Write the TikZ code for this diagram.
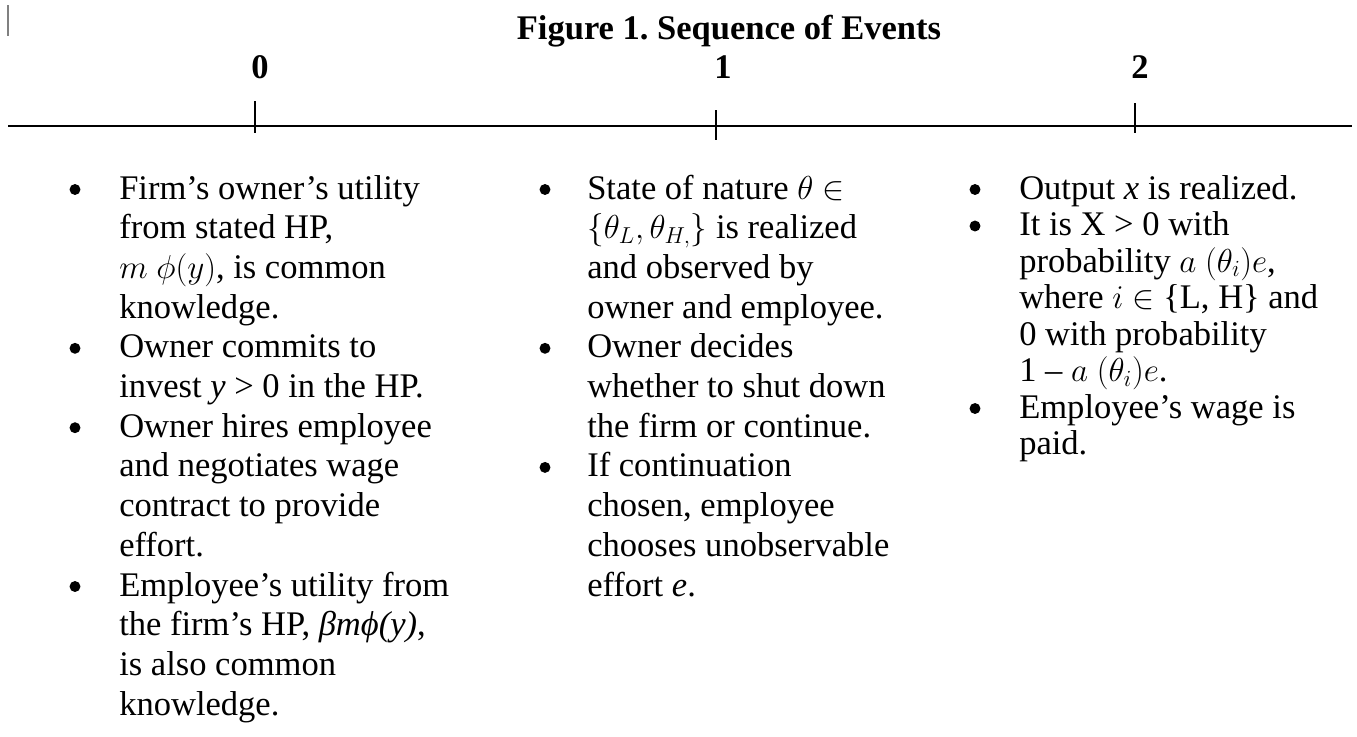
\documentclass[tikz,border=0pt]{standalone}
\usepackage{fontspec}
\setmainfont{Liberation Serif}
\frenchspacing
\newcommand\TL[4]{\node[txt] (#1) at (#2,#3) {#4};}
\newcommand\BL[3]{\node[dot] (#1) at (#2,#3-9.5) {};}
\begin{document}
\begin{tikzpicture}[x=0.75pt,y=-0.75pt,
  txt/.style={anchor=base west, inner sep=0pt, font=\fontsize{25.9}{31}\selectfont},
  dot/.style={circle, fill=black, inner sep=0pt, minimum size=8.2pt},
  hd/.style={anchor=base, inner sep=0pt, font=\fontsize{25.9}{31}\selectfont\bfseries},
  axisline/.style={line width=1.6pt},
  tickline/.style={line width=0.8pt}]
\useasboundingbox (0,0) rectangle (1357,736);
% small grey mark
\coordinate (ma) at (8,5); \coordinate (mb) at (8,36);
\draw[gray, line width=1.2pt] (ma) -- (mb);
% title and time labels
\node[hd] (title) at (729,39) {Figure 1. Sequence of Events};
\node[hd] (n0) at (260,78) {0};
\node[hd] (n1) at (723,78) {1};
\node[hd] (n2) at (1140,78) {2};
% axis
\coordinate (L) at (8,126); \coordinate (R) at (1352,126);
\draw[axisline] (L) -- (R);
\coordinate (t0a) at (255,101); \coordinate (t0b) at (255,133);
\coordinate (t1a) at (716,110); \coordinate (t1b) at (716,140);
\coordinate (t2a) at (1135,103); \coordinate (t2b) at (1135,133);
\draw[tickline] (t0a) -- (t0b);
\draw[tickline] (t1a) -- (t1b);
\draw[tickline] (t2a) -- (t2b);
% column 1 (line pitch 39.7)
\BL{a1}{75}{199}
\TL{a1l1}{119}{199}{Firm’s owner’s utility}
\TL{a1l2}{119}{238.7}{from stated HP,}
\TL{a1l3}{119}{278.4}{$m\ \phi(y)$, is common}
\TL{a1l4}{119}{318.1}{knowledge.}
\BL{a2}{75}{357.8}
\TL{a2l1}{119}{357.8}{Owner commits to}
\TL{a2l2}{119}{397.5}{invest \textit{y} > 0 in the HP.}
\BL{a3}{75}{437.2}
\TL{a3l1}{119}{437.2}{Owner hires employee}
\TL{a3l2}{119}{476.9}{and negotiates wage}
\TL{a3l3}{119}{516.6}{contract to provide}
\TL{a3l4}{119}{556.3}{effort.}
\BL{a4}{75}{596}
\TL{a4l1}{119}{596}{Employee’s utility from}
\TL{a4l2}{119}{635.7}{the firm’s HP, \textit{βmϕ(y)},}
\TL{a4l3}{119}{675.4}{is also common}
\TL{a4l4}{119}{715.1}{knowledge.}
% column 2
\BL{b1}{545}{199}
\TL{b1l1}{587}{199}{State of nature $\theta\in$}
\TL{b1l2}{587}{238.7}{$\bigl\{\theta_L,\theta_{H,}\bigr\}$ is realized}
\TL{b1l3}{587}{278.4}{and observed by}
\TL{b1l4}{587}{318.1}{owner and employee.}
\BL{b2}{545}{357.8}
\TL{b2l1}{587}{357.8}{Owner decides}
\TL{b2l2}{587}{397.5}{whether to shut down}
\TL{b2l3}{587}{437.2}{the firm or continue.}
\BL{b3}{545}{476.9}
\TL{b3l1}{587}{476.9}{If continuation}
\TL{b3l2}{587}{516.6}{chosen, employee}
\TL{b3l3}{587}{556.3}{chooses unobservable}
\TL{b3l4}{587}{596}{effort \textit{e}.}
% column 3 (line pitch 36.5)
\BL{c1}{975}{199}
\TL{c1l1}{1019}{199}{Output \textit{x} is realized.}
\BL{c2}{975}{235.5}
\TL{c2l1}{1019}{235.5}{It is X > 0 with}
\TL{c2l2}{1019}{272}{probability $a\ (\theta_i)e$,}
\TL{c2l3}{1019}{308.5}{where $i\in$ \{L, H\} and}
\TL{c2l4}{1019}{345}{0 with probability}
\TL{c2l5}{1019}{381.5}{1 – $a\ (\theta_i)e$.}
\BL{c3}{975}{418}
\TL{c3l1}{1019}{418}{Employee’s wage is}
\TL{c3l2}{1019}{454.5}{paid.}
\end{tikzpicture}
\end{document}
